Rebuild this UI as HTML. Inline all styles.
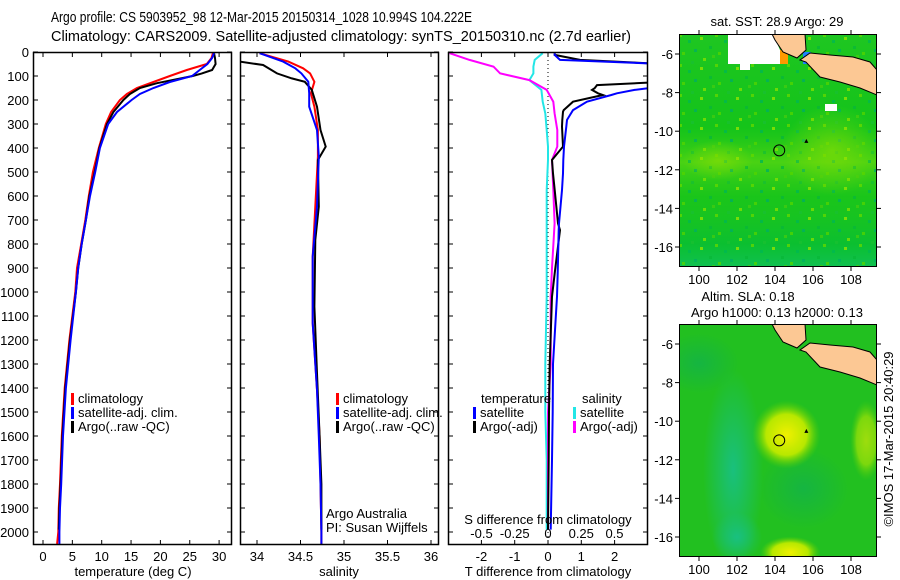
<!DOCTYPE html>
<html><head><meta charset="utf-8">
<style>
body{margin:0;background:#fff;}
svg{display:block;font-family:"Liberation Sans",sans-serif;}
text{fill:#000;}
</style></head>
<body>
<svg id="fig" width="900" height="580" viewBox="0 0 900 580" xmlns="http://www.w3.org/2000/svg">
<text x="51" y="22" font-size="15" textLength="421" lengthAdjust="spacingAndGlyphs">Argo profile: CS 5903952_98 12-Mar-2015 20150314_1028 10.994S 104.222E</text>
<text x="51" y="41" font-size="15" textLength="580" lengthAdjust="spacingAndGlyphs">Climatology: CARS2009. Satellite-adjusted climatology: synTS_20150310.nc (2.7d earlier)</text>
<g id="panels"></g>
<g id="maps"></g>
<text transform="translate(893,439) rotate(-90)" text-anchor="middle" font-size="13">©IMOS 17-Mar-2015 20:40:29</text>
</svg>
<script>
// ---- data ----
const depthsT = [0,25,50,75,100,125,150,175,200,250,300,400,500,600,700,800,900,1000,1200,1400,1600,1800,1900,2000,2050];
const tempClim = [29.0,28.7,27.9,24.5,21.6,18.8,16.0,14.3,13.1,11.6,10.7,9.5,8.5,7.8,7.2,6.5,5.8,5.5,4.5,3.7,3.2,2.9,2.7,2.6,2.4];
const tempSat  = [29.2,28.8,28.0,26.7,25.4,21.6,18.8,16.5,15.1,12.6,11.1,9.7,8.9,8.0,7.3,6.6,6.0,5.6,4.7,3.9,3.4,3.1,2.9,2.8,2.8];
const depthsArgoT = [0,25,50,75,90,100,130,150,175,200,250,300,400,500,600,700,800,900,1000,1200,1400,1600,1800,1900,1990];
const tempArgo = [29.1,29.3,29.4,28.8,27.0,25.5,19.4,16.5,14.8,13.7,12.0,10.9,9.6,8.8,7.9,7.3,6.6,6.0,5.6,4.6,3.8,3.3,3.0,2.8,2.7];

const depthsS = [5,40,68,89,124,172,228,325,436,644,853,1130,1408,1600,1800,2000,2050];
const salClim = [34.03,34.36,34.53,34.61,34.66,34.62,34.66,34.70,34.70,34.67,34.64,34.64,34.69,34.72,34.73,34.74,34.74];
const salSat  = [34.03,34.30,34.44,34.51,34.59,34.60,34.60,34.69,34.71,34.69,34.64,34.64,34.69,34.71,34.73,34.74,34.74];
const depthsArgoS = [10,30,40,54,89,110,124,158,228,325,394,450,644,783,1061,1339,1603,1800,1990];
const salArgo = [33.55,33.72,33.80,34.07,34.23,34.40,34.55,34.63,34.69,34.73,34.79,34.70,34.71,34.67,34.66,34.69,34.72,34.74,34.74];

const depthsTd = [5,12,33,50,68,100,124,138,151,158,172,179,207,242,249,283,311,394,450,506,575,714,742,922,1019,1300,1500,1700,1990];
const tdiffSat  = [0.2,0.2,0.36,3.5,3.5,3.5,3.5,3.5,3.0,2.6,2.07,1.9,1.17,0.75,0.72,0.57,0.55,0.48,0.46,0.45,0.42,0.33,0.32,0.29,0.27,0.15,0.14,0.12,0.08];
const tdiffArgo = [0.2,0.2,0.96,3.5,3.5,3.5,3.5,1.47,1.40,1.32,1.5,1.65,0.75,0.47,0.45,0.43,0.42,0.45,0.12,0.15,0.2,0.3,0.36,0.2,0.12,0.05,0.03,0.02,0.0];
const depthsSd = [5,33,61,89,117,158,207,256,325,394,450,575,714,900,1019,1300,1500,1700,1990];
const sdiffSat  = [-0.04,-0.10,-0.11,-0.11,-0.14,-0.05,-0.04,-0.02,-0.01,0.0,0.0,-0.01,-0.01,-0.01,-0.01,-0.02,-0.02,-0.01,-0.01];
const sdiffArgo = [-0.74,-0.59,-0.41,-0.36,-0.14,-0.01,0.04,0.05,0.07,0.07,0.03,0.04,0.05,0.03,0.02,0.02,0.0,0.0,0.0];

const tempTicks = [0,5,10,15,20,25,30];
const salTicks = [34,34.5,35,35.5,36];
const salTickLabels = ["34","34.5","35","35.5","36"];
const tdTicks = [-2,-1,0,1,2];
const sdTicks = [-0.5,-0.25,0,0.25,0.5];
const sdTickLabels = ["-0.5","-0.25","0","0.25","0.5"];
const depthTicks = [0,100,200,300,400,500,600,700,800,900,1000,1100,1200,1300,1400,1500,1600,1700,1800,1900,2000];

const NS='http://www.w3.org/2000/svg';
function el(tag, attrs, parent, txt){
  const e=document.createElementNS(NS,tag);
  for(const k in attrs) e.setAttribute(k,attrs[k]);
  if(txt!==undefined) e.textContent=txt;
  parent.appendChild(e); return e;
}
const top0=52, bot=545;
const yD = d => top0 + d*0.24;
const G=document.getElementById('panels');

function panelFrame(x0,x1,name){
  const g=el('g',{},G);
  
  
  const cp=el('clipPath',{id:'clip-'+name},g);
  el('rect',{x:x0,y:top0,width:x1-x0,height:bot-top0},cp);
  depthTicks.forEach(d=>{
    el('line',{x1:x0,x2:x0+5,y1:yD(d),y2:yD(d),stroke:'#000'},g);
    el('line',{x1:x1-5,x2:x1,y1:yD(d),y2:yD(d),stroke:'#000'},g);
  });
  return g;
}
function line(g,name,xs,ds,sx,color,clip){
  const pts=xs.map((v,i)=>sx(v).toFixed(1)+','+yD(ds[i]).toFixed(1)).join(' ');
  const p=el('polyline',{points:pts,fill:'none',stroke:color,'stroke-width':2,'clip-path':'url(#clip-'+clip+')'},g);
  
  
}
function frameRect(g,x0,x1){ el('rect',{x:x0+0.5,y:top0+0.5,width:x1-x0-1,height:bot-top0-1,fill:'none',stroke:'#000','stroke-width':1.5},g); }
function legend(g,x,y,items){
  items.forEach((it,i)=>{
    el('rect',{x:x,y:y+i*14-10,width:3,height:12,fill:it[1]},g);
    const t=el('text',{x:x+7,y:y+i*14,'font-size':13},g,it[0]);
    
    
  });
}

// Panel 1 temperature
(function(){
  const x0=33,x1=232, sx=v=>43+v*5.87;
  const g=panelFrame(x0,x1,'temperature-panel');
  depthTicks.forEach(d=>{ const t=el('text',{x:29,y:yD(d)+5,'font-size':13,'text-anchor':'end'},g,String(d));
      });
  tempTicks.forEach(v=>{
    el('line',{x1:sx(v),x2:sx(v),y1:bot,y2:bot-5,stroke:'#000'},g);
    el('line',{x1:sx(v),x2:sx(v),y1:top0,y2:top0+5,stroke:'#000'},g);
    const t=el('text',{x:sx(v),y:561,'font-size':13,'text-anchor':'middle'},g,String(v));
     
  });
  line(g,'temp-climatology',tempClim,depthsT,sx,'#ff0000','temperature-panel');
  line(g,'temp-argo',tempArgo,depthsArgoT,sx,'#000','temperature-panel');
  line(g,'temp-satellite',tempSat,depthsT,sx,'#0000ff','temperature-panel');
  frameRect(g,x0,x1);
  const t=el('text',{x:133,y:576,'font-size':13,'text-anchor':'middle'},g,'temperature (deg C)');
   
  legend(g,71,403,[['climatology','#ff0000'],['satellite-adj. clim.','#0000ff'],['Argo(..raw -QC)','#000']]);
})();

// Panel 2 salinity
(function(){
  const x0=240,x1=439, sx=v=>257+(v-34)*87;
  const g=panelFrame(x0,x1,'salinity-panel');
  salTicks.forEach((v,i)=>{
    el('line',{x1:sx(v),x2:sx(v),y1:bot,y2:bot-5,stroke:'#000'},g);
    el('line',{x1:sx(v),x2:sx(v),y1:top0,y2:top0+5,stroke:'#000'},g);
    const t=el('text',{x:sx(v),y:561,'font-size':13,'text-anchor':'middle'},g,salTickLabels[i]);
     
  });
  line(g,'sal-climatology',salClim,depthsS,sx,'#ff0000','salinity-panel');
  line(g,'sal-argo',salArgo,depthsArgoS,sx,'#000','salinity-panel');
  line(g,'sal-satellite',salSat,depthsS,sx,'#0000ff','salinity-panel');
  frameRect(g,x0,x1);
  const t=el('text',{x:339,y:576,'font-size':13,'text-anchor':'middle'},g,'salinity');
   
  legend(g,336,403,[['climatology','#ff0000'],['satellite-adj. clim.','#0000ff'],['Argo(..raw -QC)','#000']]);
  el('text',{x:326,y:518,'font-size':13},g,'Argo Australia');
  el('text',{x:326,y:532,'font-size':13},g,'PI: Susan Wijffels');
})();

// Panel 3 differences
(function(){
  const x0=448,x1=648, sxT=v=>548+v*33.3, sxS=v=>548+v*133;
  const g=panelFrame(x0,x1,'difference-panel');
  el('line',{x1:548,x2:548,y1:top0,y2:bot,stroke:'#000','stroke-dasharray':'1,3'},g);
  tdTicks.forEach(v=>{
    el('line',{x1:sxT(v),x2:sxT(v),y1:bot,y2:bot-5,stroke:'#000'},g);
    el('line',{x1:sxT(v),x2:sxT(v),y1:top0,y2:top0+5,stroke:'#000'},g);
    const t=el('text',{x:sxT(v),y:561,'font-size':13,'text-anchor':'middle'},g,String(v));
     
  });
  sdTicks.forEach((v,i)=>{
    const t=el('text',{x:sxS(v),y:538,'font-size':13,'text-anchor':'middle'},g,sdTickLabels[i]);
     
  });
  line(g,'sdiff-satellite',sdiffSat,depthsSd,sxS,'#22e6e6','difference-panel');
  line(g,'sdiff-argo',sdiffArgo,depthsSd,sxS,'#ff00ff','difference-panel');
  line(g,'tdiff-argo',tdiffArgo,depthsTd,sxT,'#000','difference-panel');
  line(g,'tdiff-satellite',tdiffSat,depthsTd,sxT,'#0000ff','difference-panel');
  frameRect(g,x0,x1);
  el('text',{x:548,y:524,'font-size':13,'text-anchor':'middle'},g,'S difference from climatology');
  const t=el('text',{x:548,y:576,'font-size':13,'text-anchor':'middle'},g,'T difference from climatology');
   
  el('text',{x:481,y:403,'font-size':13},g,'temperature');
  legend(g,473,417,[['satellite','#0000ff'],['Argo(-adj)','#000']]);
  el('text',{x:582,y:403,'font-size':13},g,'salinity');
  legend(g,573,417,[['satellite','#22e6e6'],['Argo(-adj)','#ff00ff']]);
})();

// Maps
const mapLonTicks=[100,102,104,106,108];
const mapLatTicks=[-6,-8,-10,-12,-14,-16];
const M=document.getElementById('maps');
function drawMap(y0,name,kind){
  const x0=679,w=198,h=233;
  const lx=v=>699+(v-100)*19, ly=v=>y0+20+(-6-v)*19.3;
  const g=el('g',{},M);
  
  
  const defs=el('defs',{},g);
  const cp=el('clipPath',{id:'mclip'+kind},defs);
  el('rect',{x:x0,y:y0,width:w,height:h},cp);
  const inner=el('g',{'clip-path':'url(#mclip'+kind+')'},g);
  if(kind==='sst'){
    el('rect',{x:x0,y:y0,width:w,height:h,fill:'#10c418'},inner);
    const rg=el('linearGradient',{id:'sstg',x1:0,y1:0,x2:0,y2:1},defs);
    [['0','#28c828','0.6'],['0.4','#20c420','0.3'],['0.55','#70dc10','0.6'],['0.7','#30c820','0.3'],['0.9','#08bc40','0.6'],['1','#10c060','0.8']].forEach(s=>el('stop',{offset:s[0],'stop-color':s[1],'stop-opacity':s[2]},rg));
    el('rect',{x:x0,y:y0,width:w,height:h,fill:'url(#sstg)'},inner);
    // speckle texture pattern (decorative)
    const pat=el('pattern',{id:'speck',x:x0,y:y0,width:36,height:30,patternUnits:'userSpaceOnUse'},defs);
    [[0,0,'#60d800'],[9,6,'#00b850'],[21,3,'#90e400'],[30,12,'#08b838'],[3,18,'#50d400'],[15,15,'#00b060'],[24,24,'#80e000'],[12,27,'#18c030'],[33,21,'#40cc10']].forEach(c=>el('rect',{x:c[0],y:c[1],width:3,height:3,fill:c[2]},pat));
    el('rect',{x:x0,y:y0,width:w,height:h,fill:'url(#speck)',opacity:0.8},inner);
    const rr=el('radialGradient',{id:'sstr'},defs);
    el('stop',{offset:'0','stop-color':'#90e000','stop-opacity':'0.6'},rr);
    el('stop',{offset:'1','stop-color':'#90e000','stop-opacity':'0'},rr);
    el('ellipse',{cx:lx(107),cy:ly(-11),rx:50,ry:45,fill:'url(#sstr)'},inner);
    el('ellipse',{cx:lx(101),cy:ly(-11.5),rx:35,ry:20,fill:'url(#sstr)'},inner);
    el('polygon',{points:`728,${y0} 773,${y0} 780,${y0+16} 780,${y0+30} 750,${y0+30} 750,${y0+36} 740,${y0+36} 740,${y0+30} 728,${y0+30}`,fill:'#fff'},inner);
    el('rect',{x:780,y:y0+16,width:8,height:14,fill:'#ff9900'},inner);
    el('rect',{x:825,y:y0+70,width:12,height:7,fill:'#fff'},inner);
    el('rect',{x:803,y:y0+18,width:8,height:12,fill:'#2080ff'},inner);
  } else {
    el('rect',{x:x0,y:y0,width:w,height:h,fill:'#22c020'},inner);
    const cg=el('radialGradient',{id:'slac'},defs);
    el('stop',{offset:'0','stop-color':'#18c088','stop-opacity':'0.9'},cg);
    el('stop',{offset:'1','stop-color':'#18c088','stop-opacity':'0'},cg);
    el('ellipse',{cx:lx(101.8),cy:ly(-12.5),rx:30,ry:100,fill:'url(#slac)'},inner);
    el('ellipse',{cx:lx(102),cy:ly(-16),rx:25,ry:25,fill:'url(#slac)'},inner);
    const dg=el('radialGradient',{id:'slad'},defs);
    el('stop',{offset:'0','stop-color':'#10b050','stop-opacity':'0.7'},dg);
    el('stop',{offset:'1','stop-color':'#10b050','stop-opacity':'0'},dg);
    el('ellipse',{cx:lx(105.5),cy:ly(-13.5),rx:45,ry:40,fill:'url(#slad)'},inner);
    el('ellipse',{cx:lx(100),cy:ly(-7),rx:40,ry:30,fill:'url(#slad)'},inner);
    const yg=el('radialGradient',{id:'slay'},defs);
    el('stop',{offset:'0','stop-color':'#f0f000'},yg);
    el('stop',{offset:'0.6','stop-color':'#b8e800'},yg);
    el('stop',{offset:'1','stop-color':'#60d000','stop-opacity':'0'},yg);
    el('ellipse',{cx:lx(104.6),cy:ly(-10.7),rx:34,ry:34,fill:'url(#slay)'},inner);
    el('ellipse',{cx:lx(104.8),cy:ly(-16.8),rx:30,ry:16,fill:'url(#slay)'},inner);
    el('ellipse',{cx:lx(108.8),cy:ly(-11),rx:16,ry:40,fill:'url(#slay)',opacity:0.6},inner);
  }
  el('polygon',{points:`772,${y0} 805,${y0} 806,${y0+16} 797,${y0+24} 790,${y0+21} 783,${y0+18} 775,${y0+6}`,fill:'#fcc894',stroke:'#000','stroke-width':1},inner);
  el('polygon',{points:`810,${y0+19} 830,${y0+21} 853,${y0+23} 870,${y0+28} 877,${y0+36} 877,${y0+61} 860,${y0+54} 840,${y0+48} 820,${y0+43} 806,${y0+28} 800,${y0+26}`,fill:'#fcc894',stroke:'#000','stroke-width':1},inner);
  el('circle',{cx:lx(104.222),cy:ly(-10.994),r:5.5,fill:'none',stroke:'#000','stroke-width':1},inner);
  el('path',{d:`M${lx(105.65)-2} ${ly(-10.5)+2} l2 -4 l2 4 z`,fill:'#000'},inner);
  el('rect',{x:x0+0.5,y:y0+0.5,width:w-1,height:h-1,fill:'none',stroke:'#000','stroke-width':1},g);
  mapLonTicks.forEach(v=>{
    el('line',{x1:lx(v),x2:lx(v),y1:y0+h,y2:y0+h+4,stroke:'#000'},g);
    el('line',{x1:lx(v),x2:lx(v),y1:y0,y2:y0-4,stroke:'#000'},g);
    el('text',{x:lx(v),y:y0+h+17,'font-size':13,'text-anchor':'middle'},g,String(v));
  });
  mapLatTicks.forEach(v=>{
    el('line',{x1:x0,x2:x0-4,y1:ly(v),y2:ly(v),stroke:'#000'},g);
    el('line',{x1:x0+w,x2:x0+w+4,y1:ly(v),y2:ly(v),stroke:'#000'},g);
    el('text',{x:x0-6,y:ly(v)+5,'font-size':13,'text-anchor':'end'},g,String(v));
  });
}
drawMap(34,'sst-map','sst');
drawMap(324,'sla-map','sla');
el('text',{x:777,y:26,'font-size':13,'text-anchor':'middle'},M,'sat. SST: 28.9 Argo: 29');
el('text',{x:748,y:301,'font-size':13,'text-anchor':'middle'},M,'Altim. SLA: 0.18');
el('text',{x:777,y:317,'font-size':13,'text-anchor':'middle'},M,'Argo h1000: 0.13 h2000: 0.13');
</script>
</body></html>
